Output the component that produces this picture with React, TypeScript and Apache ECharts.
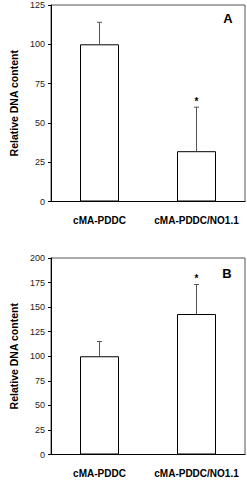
import React, { useEffect, useRef } from "react";
import * as echarts from "echarts";

const categories = ["cMA-PDDC", "cMA-PDDC/NO1.1"];
const valuesA = [100, 32];
const errorTopA = [114, 60];
const starA = [0, 1];
const valuesB = [100, 143];
const errorTopB = [115, 173];
const starB = [0, 1];
const yTicksA = { min: 0, max: 125, interval: 25 };
const yTicksB = { min: 0, max: 200, interval: 25 };
const yName = "Relative DNA content";
const panels = ["A", "B"];

const FONT = "Liberation Sans, Arial, sans-serif";

function errData(vals: number[], tops: number[], stars: number[]) {
  return vals.map((v, i) => [i, tops[i], v, stars[i]]);
}

function renderErr(params: any, api: any) {
  const idx = api.value(0);
  const top = api.coord([idx, api.value(1)]);
  const base = api.coord([idx, api.value(2)]);
  const children: any[] = [
    { type: "line", shape: { x1: base[0], y1: base[1], x2: top[0], y2: top[1] }, style: { stroke: "#555", lineWidth: 1 } },
    { type: "line", shape: { x1: top[0] - 2.5, y1: top[1], x2: top[0] + 2.5, y2: top[1] }, style: { stroke: "#555", lineWidth: 1 } },
  ];
  if (api.value(3)) {
    children.push({
      type: "text",
      x: top[0],
      y: top[1] - 6,
      style: { text: "*", fontFamily: FONT, fontSize: 10, fontWeight: "bold", fill: "#000", align: "center", verticalAlign: "middle" },
    });
  }
  return { type: "group", children };
}

export default function App() {
  const ref = useRef<HTMLDivElement>(null);
  useEffect(() => {
    if (!ref.current) return;
    const chart = echarts.init(ref.current, null, { renderer: "svg" });
    const grids = [
      { left: 46, top: 5, width: 199, height: 196.5 },
      { left: 46, top: 258, width: 199, height: 196.5 },
    ];
    const xAxis = [0, 1].map((i) => ({
      type: "category",
      gridIndex: i,
      data: categories,
      axisLine: { lineStyle: { color: "#000", width: 1 } },
      axisTick: { show: false },
      axisLabel: { interval: 0, hideOverlap: false, fontFamily: FONT, fontSize: 10, fontWeight: "bold", color: "#000", margin: 14 },
    }));
    const yAxis = [yTicksA, yTicksB].map((t, i) => ({
      type: "value",
      gridIndex: i,
      min: t.min,
      max: t.max,
      interval: t.interval,
      name: yName,
      nameLocation: "middle",
      nameGap: 32,
      nameTextStyle: { fontFamily: FONT, fontSize: 10.5, fontWeight: "bold", color: "#000" },
      axisLine: { show: true, lineStyle: { color: "#000", width: 1 } },
      axisTick: { show: true, length: 3, lineStyle: { color: "#000" } },
      splitLine: { show: false },
      axisLabel: { fontFamily: FONT, fontSize: 9, color: "#222", margin: 6 },
    }));
    const barStyle = { color: "#fff", borderColor: "#000", borderWidth: 1 };
    chart.setOption({
      animation: false,
      grid: grids.map((g) => ({ ...g, show: true, borderColor: "#555", borderWidth: 1, backgroundColor: "transparent" })),
      xAxis,
      yAxis,
      series: [
        { type: "bar", xAxisIndex: 0, yAxisIndex: 0, data: valuesA, barWidth: 39, itemStyle: barStyle },
        { type: "bar", xAxisIndex: 1, yAxisIndex: 1, data: valuesB, barWidth: 39, itemStyle: barStyle },
        { type: "custom", xAxisIndex: 0, yAxisIndex: 0, data: errData(valuesA, errorTopA, starA), encode: { x: 0, y: 1 }, renderItem: renderErr, z: 3 },
        { type: "custom", xAxisIndex: 1, yAxisIndex: 1, data: errData(valuesB, errorTopB, starB), encode: { x: 0, y: 1 }, renderItem: renderErr, z: 3 },
      ],
      graphic: [
        { type: "text", x: 228, y: 18, style: { text: panels[0], fontFamily: FONT, fontSize: 13, fontWeight: "bold", fill: "#000", align: "center", verticalAlign: "middle" } },
        { type: "text", x: 227, y: 273, style: { text: panels[1], fontFamily: FONT, fontSize: 13, fontWeight: "bold", fill: "#000", align: "center", verticalAlign: "middle" } },
      ],
    });
    return () => chart.dispose();
  }, []);
  return <div ref={ref} style={{ position: "fixed", left: 0, top: 0, width: 247, height: 480, background: "#fff" }} />;
}
